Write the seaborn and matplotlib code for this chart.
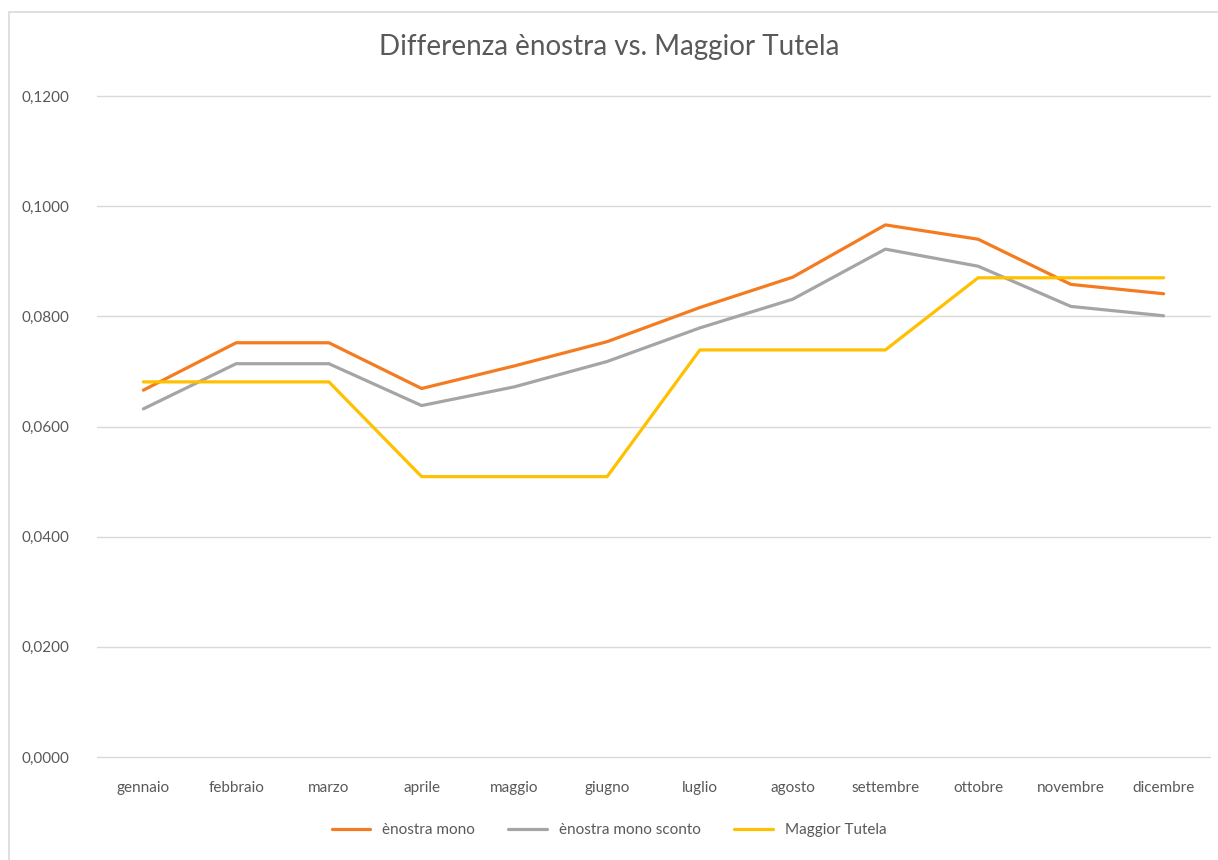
import numpy as np
import pandas as pd
import seaborn as sns
import matplotlib.pyplot as plt
from matplotlib.patches import Rectangle
from matplotlib.ticker import FuncFormatter, MultipleLocator

mesi = ['gennaio', 'febbraio', 'marzo', 'aprile', 'maggio', 'giugno',
        'luglio', 'agosto', 'settembre', 'ottobre', 'novembre', 'dicembre']
enostra_mono = [0.0666, 0.0752, 0.0752, 0.0669, 0.0710, 0.0754,
                0.0816, 0.0871, 0.0966, 0.0940, 0.0858, 0.0841]
enostra_mono_sconto = [0.0632, 0.0714, 0.0714, 0.0638, 0.0672, 0.0718,
                       0.0779, 0.0831, 0.0922, 0.0891, 0.0818, 0.0801]
maggior_tutela = [0.0681, 0.0681, 0.0681, 0.0509, 0.0509, 0.0509,
                  0.0739, 0.0739, 0.0739, 0.0870, 0.0870, 0.0870]
serie = ['ènostra mono', 'ènostra mono sconto', 'Maggior Tutela']
colori = ['#F47B20', '#A5A5A5', '#FFC000']

df = pd.DataFrame({'mese': mesi * 3,
                   'valore': enostra_mono + enostra_mono_sconto + maggior_tutela,
                   'serie': np.repeat(serie, len(mesi))})

sns.set_style('white')
plt.rcParams['font.family'] = ['Lato', 'DejaVu Sans']
grigio = '#595959'

fig = plt.figure(figsize=(12.18, 8.6), dpi=100)
ax = fig.add_axes([97 / 1218, 1 - 757 / 860, (1210 - 97) / 1218, (757 - 96) / 860])

sns.lineplot(data=df, x='mese', y='valore', hue='serie', palette=colori,
             sort=False, linewidth=2.3, ax=ax, legend=True)

ax.set_xlim(-0.5, 11.5)
ax.set_ylim(0, 0.12)
ax.yaxis.set_major_locator(MultipleLocator(0.02))
ax.yaxis.set_major_formatter(FuncFormatter(lambda v, p: f'{v:.4f}'.replace('.', ',')))
ax.grid(axis='y', color='#D9D9D9', linewidth=1)
for g in ax.get_ygridlines():
    g.set_clip_on(False)
ax.set_axisbelow(True)
for s in ax.spines.values():
    s.set_visible(False)
ax.tick_params(axis='y', colors=grigio, labelsize=11, length=0, pad=20)
ax.tick_params(axis='x', colors=grigio, labelsize=11, length=0, pad=17)
ax.set_xlabel('')
ax.set_ylabel('')

ax.legend(loc='center', bbox_to_anchor=(0.5, 1 - 830 / 860), bbox_transform=fig.transFigure,
          ncol=3, frameon=False, fontsize=11, handlelength=2.5, columnspacing=2.2,
          labelcolor=grigio)

fig.text(0.5, 1 - 47 / 860, 'Differenza ènostra vs. Maggior Tutela',
         ha='center', va='center', fontsize=20, color=grigio)

# bordo del grafico
fig.patches.append(Rectangle((9 / 1218, -0.01), 1.1, 1 - 12 / 860 + 0.01,
                             transform=fig.transFigure, fill=False,
                             edgecolor='#D9D9D9', linewidth=1.2))

fig.savefig('out.png', dpi=100)
